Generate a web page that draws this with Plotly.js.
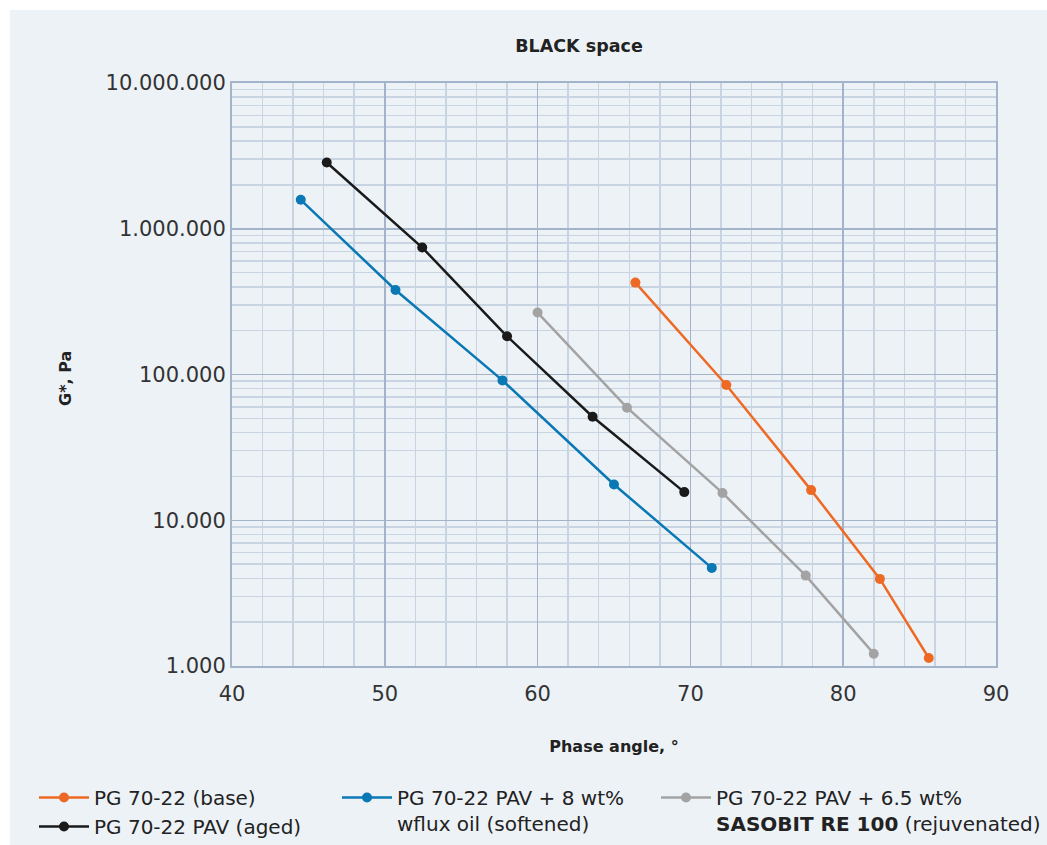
<!DOCTYPE html>
<html>
<head>
<meta charset="utf-8">
<script src="https://cdn.plot.ly/plotly-3.0.1.min.js"></script>
<style>
  html, body { margin: 0; padding: 0; background: #ffffff; }
  #chart { position: absolute; left: 10px; top: 10px; width: 1037px; height: 835px; }
</style>
</head>
<body>
<div id="chart"></div>
<script>
// ---- Data ----
const seriesNames = [
  "PG 70-22 (base)",
  "PG 70-22 PAV (aged)",
  "PG 70-22 PAV + 8 wt%<br>wflux oil (softened)",
  "PG 70-22 PAV + 6.5 wt%<br><b>SASOBIT RE 100</b> (rejuvenated)"
];

const baseAngle  = [66.4, 72.35, 77.9, 82.4, 85.6];
const baseG      = [427000, 84700, 16100, 3960, 1135];

const agedAngle  = [46.2, 52.45, 58.0, 63.6, 69.6];
const agedG      = [2850000, 743000, 183000, 51300, 15600];

const wfluxAngle = [44.5, 50.7, 57.7, 65.0, 71.4];
const wfluxG     = [1580000, 380000, 91100, 17600, 4710];

const sasoAngle  = [60.0, 65.85, 72.1, 77.55, 82.0];
const sasoG      = [266000, 59200, 15400, 4170, 1215];

const yTickVals  = [1000, 10000, 100000, 1000000, 10000000];
const yTickText  = ["1.000", "10.000", "100.000", "1.000.000", "10.000.000"];
const xTickVals  = [40, 50, 60, 70, 80, 90];

const chartTitle = "BLACK space";
const xTitle     = "Phase angle, °";
const yTitle     = "G*, Pa";

// ---- Styles ----
const FONT = "DejaVu Sans, sans-serif";
const colors = { base: "#ee6a24", aged: "#1a1a1a", wflux: "#0a78b4", saso: "#a3a3a3" };

function mk(x, y, name, color, legendId) {
  return {
    type: "scatter", mode: "lines+markers",
    x: x, y: y, name: name,
    line: { color: color, width: 2.5 },
    marker: { color: color, size: 10 },
    legend: legendId,
    hoverinfo: "x+y+name"
  };
}

const data = [
  mk(baseAngle, baseG, seriesNames[0], colors.base, "legend"),
  mk(agedAngle, agedG, seriesNames[1], colors.aged, "legend"),
  mk(wfluxAngle, wfluxG, seriesNames[2], colors.wflux, "legend2"),
  mk(sasoAngle, sasoG, seriesNames[3], colors.saso, "legend3")
];

const majorGrid = "#a2b3ca";
const minorGrid = "#c9d4e2";
const legendFont = { family: FONT, size: 20, color: "#222222" };

function legendAt(pageX, pageY) {
  return {
    orientation: "v",
    xref: "container", yref: "container",
    x: (pageX - 10) / 1037, y: 1 - (pageY - 10) / 835,
    xanchor: "left", yanchor: "top",
    font: legendFont, bgcolor: "rgba(0,0,0,0)", borderwidth: 0, valign: "top",
    itemwidth: 50, tracegroupgap: 0
  };
}

const layout = {
  width: 1037, height: 835,
  paper_bgcolor: "#edf2f7",
  plot_bgcolor: "#edf2f7",
  margin: { l: 222, r: 51, t: 73, b: 179, pad: 0, autoexpand: false },
  title: {
    text: "<b>" + chartTitle + "</b>",
    font: { family: FONT, size: 17.5, color: "#222222" },
    xref: "container", yref: "container",
    x: 569 / 1037, y: 1 - 36 / 835,
    xanchor: "center", yanchor: "middle"
  },
  xaxis: {
    range: [40, 90],
    tickvals: xTickVals,
    ticks: "",
    ticklabelstandoff: 8,
    tickfont: { family: FONT, size: 21, color: "#333333" },
    showgrid: true, gridcolor: majorGrid, gridwidth: 1.5,
    minor: { dtick: 2, showgrid: true, gridcolor: minorGrid, gridwidth: 1.5 },
    showline: true, mirror: true, linecolor: majorGrid, linewidth: 2,
    zeroline: false,
    title: { text: "<b>" + xTitle + "</b>", font: { family: FONT, size: 16, color: "#222222" }, standoff: 36 }
  },
  yaxis: {
    type: "log",
    range: [3, 7],
    tickvals: yTickVals,
    ticktext: yTickText,
    ticks: "",
    tickfont: { family: FONT, size: 21, color: "#333333" },
    showgrid: true, gridcolor: majorGrid, gridwidth: 1.5,
    minor: { dtick: "D1", showgrid: true, gridcolor: minorGrid, gridwidth: 1.5 },
    showline: true, mirror: true, linecolor: majorGrid, linewidth: 2,
    zeroline: false
  },
  annotations: [{
    text: "<b>" + yTitle + "</b>",
    xref: "paper", yref: "paper",
    x: (65 - 232) / 764, y: (666 - 379) / 583,
    xanchor: "center", yanchor: "middle",
    textangle: -90, showarrow: false,
    font: { family: FONT, size: 16, color: "#222222" }
  }],
  legend: legendAt(34, 778),
  legend2: legendAt(337, 778),
  legend3: legendAt(656, 778),
  showlegend: true
};

Plotly.newPlot("chart", data, layout, { displayModeBar: false, staticPlot: true });
</script>
</body>
</html>
